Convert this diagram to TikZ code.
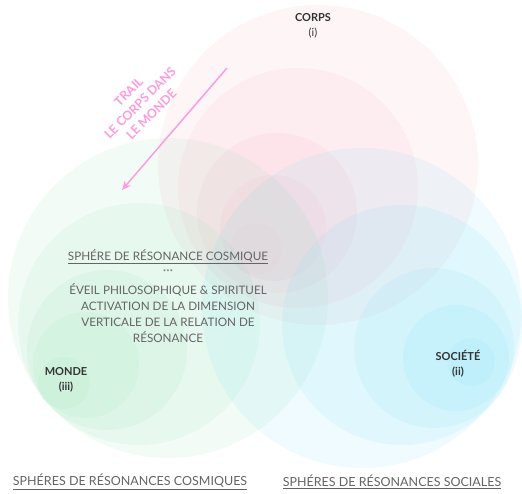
\documentclass[tikz,border=0pt]{standalone}
\usepackage{fontspec}
\setmainfont{Lato}
\usepackage{tikz}
\usetikzlibrary{arrows.meta}
\definecolor{corpspink}{RGB}{248,170,190}
\definecolor{mondegreen}{RGB}{150,225,180}
\definecolor{societeblue}{RGB}{120,222,245}
\definecolor{trailpink}{RGB}{255,155,222}
\definecolor{labelgray}{RGB}{51,51,51}
\definecolor{textgray}{RGB}{100,100,100}
\newcommand{\spherealpha}{.12}

\begin{document}
\begin{tikzpicture}[x=1pt,y=-1pt]
	\useasboundingbox (0,0) rectangle (522,493);
	% les trois spheres
	\begin{scope}[fill opacity=\spherealpha]
		\foreach \cx/\cy/\r in {318/165/160,298/188/120,277/213/80,273/228/53,256/249/26}
			\fill[corpspink] (\cx,\cy) circle (\r);
		\foreach \cx/\cy/\r in {168/298/160,139/324/121,107/350/80,86/365/53,64/383/26}
			\fill[mondegreen] (\cx,\cy) circle (\r);
		\foreach \cx/\cy/\r in {362/308/160,402/325/120,434/348/80,456/358/53,471/362/24}
			\fill[societeblue] (\cx,\cy) circle (\r);
	\end{scope}
	\begin{scope}[align=center]
		\tikzstyle{every node}=[font=\fontsize{11}{16}\selectfont\bfseries,text=labelgray]
		\node (corps) at (313,26) {CORPS\\[-1pt]\fontseries{m}\selectfont(i)};
		\node (monde) at (66,380) {MONDE\\[-1pt](iii)};
		\node (societe) at (458,364) {SOCIÉTÉ\\[-1pt](ii)};
	\end{scope}
	\begin{scope}[text=textgray]
		\node[font=\fontsize{11.7}{16}\selectfont] (sphere_title) at (168,257) {\underline{SPHÉRE DE RÉSONANCE COSMIQUE}};
		\node[font=\fontsize{8}{10}\selectfont] (sphere_stars) at (168,272) {***};
		\node[font=\fontsize{11.7}{16}\selectfont,align=center] (sphere_text) at (168,313) {ÉVEIL PHILOSOPHIQUE \& SPIRITUEL\\ACTIVATION DE LA DIMENSION\\VERTICALE DE LA RELATION DE\\RÉSONANCE};
		\node[font=\fontsize{12.5}{14}\selectfont] (cosmiques) at (130,482) {\underline{SPHÉRES DE RÉSONANCES COSMIQUES}};
		\node[font=\fontsize{12.5}{14}\selectfont] (sociales) at (392,482) {\underline{SPHÉRES DE RÉSONANCES SOCIALES}};
	\end{scope}
	% trail
	\node[rotate=45,align=center,text=trailpink,font=\fontsize{12.5}{16}\selectfont\bfseries] (trail) at (140,103) {TRAIL\\LE CORPS DANS\\LE MONDE};
	\coordinate (trail_start) at (227,68);
	\coordinate (trail_end) at (122,190);
	\draw[trailpink,line width=1.5pt,-{Stealth[length=9pt,width=8pt]}] (trail_start) -- (trail_end);
\end{tikzpicture}
\end{document}
